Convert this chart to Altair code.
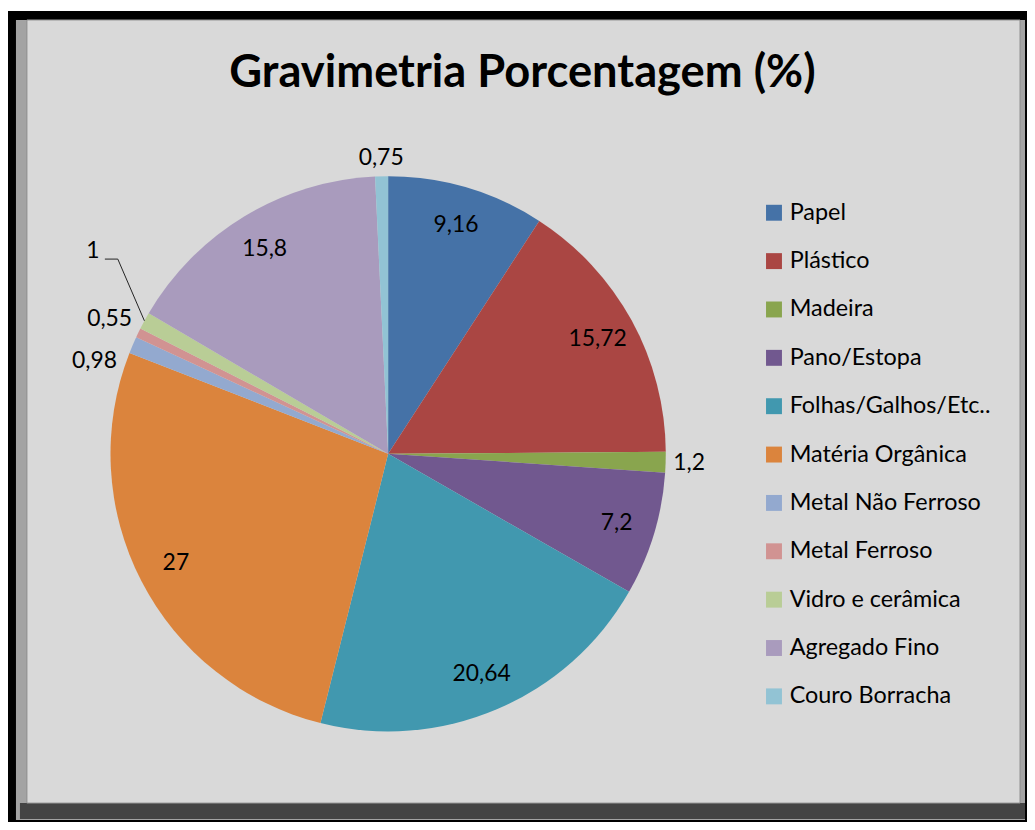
import json
import altair as alt
import pandas as pd

# ---------------- data ----------------
categorias = [
    "Papel", "Plástico", "Madeira", "Pano/Estopa", "Folhas/Galhos/Etc..",
    "Matéria Orgânica", "Metal Não Ferroso", "Metal Ferroso",
    "Vidro e cerâmica", "Agregado Fino", "Couro Borracha",
]
valores = [9.16, 15.72, 1.2, 7.2, 20.64, 27, 0.98, 0.55, 1, 15.8, 0.75]
cores = [
    "#4572A7", "#AA4643", "#89A54E", "#71588F", "#4198AF", "#DB843D",
    "#93A9CF", "#D19392", "#B9CD96", "#A99BBD", "#92C3D4",
]
titulo = "Gravimetria Porcentagem (%)"

# ---------------- layout / style ----------------
W, H = 1024, 816
CX, CY, R = 382, 446, 279
FONT = "Lato"
LABEL_SIZE = 23
# label nudges for crowded small slices (collision avoidance), and leader-line label
ajustes = {"Metal Não Ferroso": (-9, 29), "Vidro e cerâmica": (-37, -62)}
com_lider = "Vidro e cerâmica"

df = pd.DataFrame({"categoria": categorias, "valor": valores,
                   "ordem": list(range(len(categorias)))})

ndx = " : ".join([f"datum.categoria == '{c}' ? {d[0]}" for c, d in ajustes.items()] + ["0"])
ndy = " : ".join([f"datum.categoria == '{c}' ? {d[1]}" for c, d in ajustes.items()] + ["0"])

base = (
    alt.Chart(df)
    .transform_joinaggregate(total="sum(valor)")
    .transform_window(cum="sum(valor)", sort=[alt.SortField("ordem")], frame=[None, 0])
    .transform_calculate(
        mid="2*PI*(datum.cum - datum.valor/2)/datum.total",
        rotulo="replace(toString(datum.valor), '.', ',')",
    )
    .transform_calculate(
        lr=(f"datum.valor >= 5 ? 240 : {R} + 6 + length(datum.rotulo)*5.75*abs(sin(datum.mid))"
            f" + 12*abs(cos(datum.mid))")
    )
    .transform_calculate(
        lx=f"{CX} + datum.lr*sin(datum.mid) + ({ndx})",
        ly=f"{CY} - datum.lr*cos(datum.mid) + ({ndy})",
    )
)

theta = alt.Theta("valor:Q", stack=True)
order = alt.Order("ordem:Q")

# ---------------- decoration (frame) ----------------
one = alt.Data(values=[{"k": 1}])


def rect(x, x2, y, y2, fill, stroke=None):
    kw = dict(color=fill)
    if stroke:
        kw.update(stroke=stroke, strokeWidth=1)
    return alt.Chart(one).mark_rect(**kw).encode(
        x=alt.value(x), x2=alt.value(x2), y=alt.value(y), y2=alt.value(y2))


frame_black = rect(0, W, 1, H, "#000000")
frame_bevel = rect(8, W - 2, 10, H - 2, "#A3A3A3")
frame_shadow = rect(12, W - 2, 797, H - 3, "#444444")
panel = rect(19, W - 7, 10, 797, "#D9D9D9", stroke="#8C8C8C")

# ---------------- pie ----------------
pie = base.mark_arc(radius=R).encode(
    theta=theta,
    order=order,
    color=alt.Color(
        "categoria:N",
        scale=alt.Scale(domain=categorias, range=cores),
        legend=alt.Legend(
            title=None, orient="none", legendX=758, legendY=192,
            symbolType="square", symbolSize=256, symbolStrokeWidth=0,
            labelFont=FONT, labelFontSize=23.5, labelColor="black",
            rowPadding=23.6, labelOffset=4, padding=0, labelLimit=400,
        ),
    ),
    x=alt.value(CX),
    y=alt.value(CY),
)

# ---------------- data labels ----------------
rotulos = base.mark_text(
    font=FONT, fontSize=LABEL_SIZE, color="black", align="center", baseline="middle"
).encode(
    x=alt.X("lx:Q", scale=None, axis=None),
    y=alt.Y("ly:Q", scale=None, axis=None),
    text="rotulo:N",
)

# leader line for the displaced label
lider = base.transform_filter(f"datum.categoria == '{com_lider}'").transform_calculate(
    x1=f"{CX} + {R}*sin(datum.mid)",
    y1=f"{CY} - {R}*cos(datum.mid)",
    x2="datum.lx + 25", y2="datum.ly + 8", x3="datum.lx + 12",
)
seg1 = lider.mark_rule(color="#222222", strokeWidth=1).encode(
    x=alt.X("x1:Q", scale=None, axis=None), y=alt.Y("y1:Q", scale=None, axis=None),
    x2="x2:Q", y2="y2:Q")
seg2 = lider.mark_rule(color="#222222", strokeWidth=1).encode(
    x=alt.X("x2:Q", scale=None, axis=None), y=alt.Y("y2:Q", scale=None, axis=None),
    x2="x3:Q", y2="y2:Q")

# ---------------- title ----------------
tit = alt.Chart(alt.Data(values=[{"t": titulo}])).mark_text(
    font=FONT, fontSize=45.5, fontWeight="bold", color="black",
    align="center", baseline="alphabetic",
).encode(text="t:N", x=alt.value(517), y=alt.value(77))

chart = alt.layer(
    frame_black, frame_bevel, frame_shadow, panel,
    pie, rotulos, seg1, seg2, tit,
).properties(
    width=W, height=H, padding=0,
    autosize=alt.AutoSizeParams(type="none"),
    background="white",
).configure_view(stroke=None)

chart.save("out.html", embed_options={"renderer": "svg", "actions": False})
